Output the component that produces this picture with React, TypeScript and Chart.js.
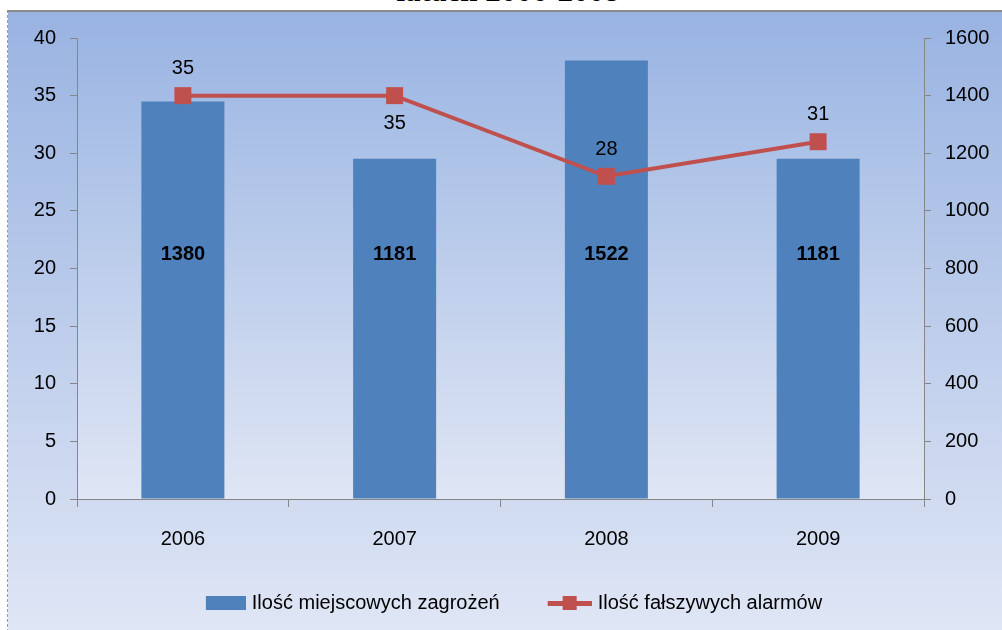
import React, { useEffect, useRef } from "react";
import { Chart, registerables } from "chart.js";

Chart.register(...registerables);

const years = ["2006", "2007", "2008", "2009"];
const localThreats = [1380, 1181, 1522, 1181];
const falseAlarms = [35, 35, 28, 31];
const alarmLabelSides = ["above", "below", "above", "above"];
const barSeriesName = "Ilość miejscowych zagrożeń";
const lineSeriesName = "Ilość fałszywych alarmów";
const titleText = "latach 2006-2008";

const BAR_COLOR = "#4f81bd";
const LINE_COLOR = "#c0504d";
const AXIS_COLOR = "#868686";
const FONT = "'Liberation Sans', Arial, sans-serif";
const LEGEND_BOX = 51;

function makeBarIcon() {
  const c = document.createElement("canvas");
  c.width = LEGEND_BOX + 8;
  c.height = 14;
  const ctx = c.getContext("2d")!;
  ctx.fillStyle = BAR_COLOR;
  ctx.fillRect(c.width - 40, 0, 40, 14);
  return c;
}

function makeLineIcon() {
  const c = document.createElement("canvas");
  c.width = LEGEND_BOX + 8;
  c.height = 16;
  const ctx = c.getContext("2d")!;
  ctx.fillStyle = LINE_COLOR;
  const x0 = c.width - 44;
  ctx.fillRect(x0, 6, 44, 5);
  ctx.fillRect(x0 + 15, 1, 14, 14);
  return c;
}

const backgroundPlugin = {
  id: "bgPlugin",
  beforeDraw(chart: any) {
    const { ctx, width, height, chartArea } = chart;
    ctx.save();
    const g = ctx.createLinearGradient(0, 0, 0, height);
    g.addColorStop(0, "#99b3e1");
    g.addColorStop(1, "#dfe6f5");
    ctx.fillStyle = g;
    ctx.fillRect(0, 0, width, height);
    const g2 = ctx.createLinearGradient(0, chartArea.top, 0, chartArea.bottom);
    g2.addColorStop(0, "#9cb6e3");
    g2.addColorStop(1, "#dfe6f4");
    ctx.fillStyle = g2;
    ctx.fillRect(chartArea.left, chartArea.top, chartArea.right - chartArea.left, chartArea.bottom - chartArea.top);
    ctx.restore();
  },
};

const labelPlugin = {
  id: "valueLabels",
  afterDatasetsDraw(chart: any) {
    const { ctx } = chart;
    ctx.save();
    ctx.textAlign = "center";
    ctx.textBaseline = "middle";
    const barMeta = chart.getDatasetMeta(0);
    const y1 = chart.scales.y1;
    ctx.font = `bold 20px ${FONT}`;
    ctx.fillStyle = "#000";
    barMeta.data.forEach((el: any, i: number) => {
      ctx.fillText(String(localThreats[i]), el.x, y1.getPixelForValue(850));
    });
    const lineMeta = chart.getDatasetMeta(1);
    ctx.font = `20px ${FONT}`;
    lineMeta.data.forEach((el: any, i: number) => {
      const dy = alarmLabelSides[i] === "below" ? 28 : -27;
      ctx.fillText(String(falseAlarms[i]), el.x, el.y + dy);
    });
    ctx.restore();
  },
};

function ChartView() {
  const ref = useRef<HTMLCanvasElement>(null);
  useEffect(() => {
    if (!ref.current) return;
    const barIcon = makeBarIcon();
    const lineIcon = makeLineIcon();
    const chart = new Chart(ref.current, {
      type: "bar",
      data: {
        labels: years,
        datasets: [
          {
            type: "bar",
            label: barSeriesName,
            data: localThreats,
            backgroundColor: BAR_COLOR,
            borderWidth: 0,
            yAxisID: "y1",
            order: 1,
            categoryPercentage: 1,
            barPercentage: 0.392,
          } as any,
          {
            type: "line",
            label: lineSeriesName,
            data: falseAlarms,
            borderColor: LINE_COLOR,
            backgroundColor: LINE_COLOR,
            borderWidth: 4,
            pointStyle: "rect",
            pointRadius: 12,
            pointBorderWidth: 0,
            pointBackgroundColor: LINE_COLOR,
            tension: 0,
            yAxisID: "y",
            order: 0,
          } as any,
        ],
      },
      options: {
        responsive: false,
        maintainAspectRatio: false,
        animation: false,
        layout: { padding: { top: 25, left: 3, right: 0, bottom: 7 } },
        plugins: {
          tooltip: { enabled: false },
          title: { display: false },
          legend: {
            position: "bottom",
            labels: {
              usePointStyle: true,
              pointStyleWidth: LEGEND_BOX,
              padding: 37,
              color: "#000",
              font: { family: FONT, size: 20 },
              generateLabels: () => [
                { text: barSeriesName, pointStyle: barIcon, fillStyle: BAR_COLOR, strokeStyle: BAR_COLOR, lineWidth: 0, datasetIndex: 0, hidden: false },
                { text: lineSeriesName, pointStyle: lineIcon, fillStyle: LINE_COLOR, strokeStyle: LINE_COLOR, lineWidth: 0, datasetIndex: 1, hidden: false },
              ] as any,
            },
          },
        },
        scales: {
          x: {
            offset: true,
            afterFit: (s: any) => { s.height = 57; },
            grid: { display: true, drawOnChartArea: false, drawTicks: true, tickLength: 8, offset: true, color: AXIS_COLOR },
            border: { display: true, color: AXIS_COLOR, width: 1 },
            ticks: { color: "#000", padding: 20, font: { family: FONT, size: 20 } },
          },
          y: {
            position: "left",
            min: 0,
            max: 40,
            afterFit: (s: any) => { s.width = 66; },
            ticks: { stepSize: 5, color: "#000", padding: 14, font: { family: FONT, size: 20 } },
            grid: { display: true, drawOnChartArea: false, tickLength: 7, color: AXIS_COLOR },
            border: { display: true, color: AXIS_COLOR, width: 1 },
          },
          y1: {
            position: "right",
            min: 0,
            max: 1600,
            afterFit: (s: any) => { s.width = 78; },
            ticks: { stepSize: 200, color: "#000", padding: 14, font: { family: FONT, size: 20 }, callback: (v: any) => String(v) },
            grid: { display: true, drawOnChartArea: false, tickLength: 7, color: AXIS_COLOR },
            border: { display: true, color: AXIS_COLOR, width: 1 },
          },
        },
      } as any,
      plugins: [backgroundPlugin, labelPlugin],
    });
    return () => chart.destroy();
  }, []);
  return <canvas ref={ref} width={994} height={618} style={{ display: "block" }} />;
}

export default function App() {
  return (
    <div style={{ position: "fixed", left: 0, top: 0, width: 1002, height: 630, overflow: "hidden", background: "#fff" }}>
      <div
        style={{
          position: "absolute",
          left: 0,
          width: 1016,
          top: -25,
          lineHeight: "31px",
          fontSize: 31,
          fontWeight: "bold",
          fontFamily: "'Liberation Serif', 'Times New Roman', serif",
          textAlign: "center",
          color: "#000",
          whiteSpace: "nowrap",
        }}
      >
        {titleText}
      </div>
      <div
        style={{
          position: "absolute",
          left: 7,
          top: 10,
          width: 995,
          height: 620,
          borderTop: "2px solid #8a8a8a",
          borderLeft: "1px dashed #9a9a9a",
        }}
      >
        <ChartView />
      </div>
    </div>
  );
}
